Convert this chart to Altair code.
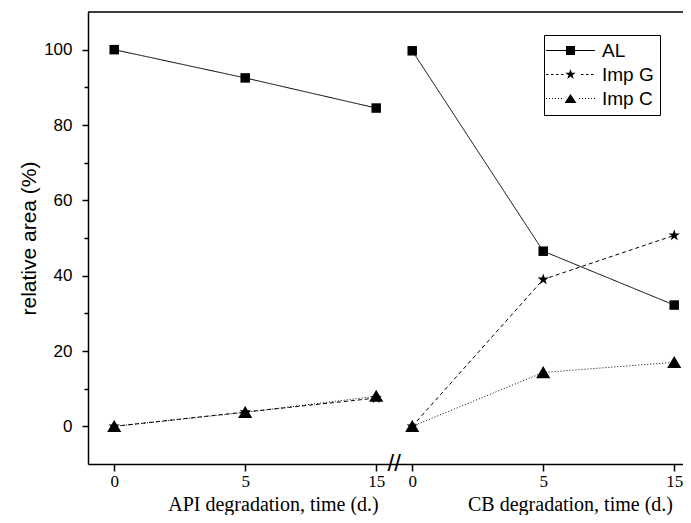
import json
import re
import altair as alt
import pandas as pd

# ---------------- data ----------------
time_labels = ["0", "5", "15"]
panel_names = ["API", "CB"]
series_names = ["AL", "Imp G", "Imp C"]

al_api = [100.0, 92.5, 84.5]
impg_api = [0.0, 3.8, 7.5]
impc_api = [0.0, 3.7, 8.0]

al_cb = [99.7, 46.5, 32.2]
impg_cb = [0.0, 39.0, 50.7]
impc_cb = [0.0, 14.3, 17.0]

x_titles = ["API degradation, time (d.)", "CB degradation, time (d.)"]
y_title = "relative area (%)"
y_major = [0, 20, 40, 60, 80, 100]
y_minor = [10, 30, 50, 70, 90]
y_domain = [-10, 110]

# ---------------- layout helpers ----------------
GAP = 2.275  # offset of the second panel on the broken axis
panel_offsets = [0.0, GAP]
x_domain = [-0.2, 4.342]

values = {
    "API": {"AL": al_api, "Imp G": impg_api, "Imp C": impc_api},
    "CB": {"AL": al_cb, "Imp G": impg_cb, "Imp C": impc_cb},
}
rows = []
for p, off in zip(panel_names, panel_offsets):
    for s in series_names:
        for i, t in enumerate(time_labels):
            rows.append({"panel": p, "series": s, "time": t,
                         "pos": i + off, "value": values[p][s][i],
                         "grp": p + "|" + s})
df = pd.DataFrame(rows)

tick_pos = [i + off for off in panel_offsets for i in range(len(time_labels))]
lab = json.dumps(time_labels)
label_expr = (f"datum.value < {GAP - 0.1} ? {lab}[round(datum.value)] : "
              f"{lab}[round(datum.value - {GAP})]")
break_pos = (len(time_labels) - 1 + GAP) / 2.0

STAR = ("M0,-1L0.2245,-0.309L0.9511,-0.309L0.3633,0.118L0.5878,0.809L0,0.382"
        "L-0.5878,0.809L-0.3633,0.118L-0.9511,-0.309L-0.2245,-0.309Z")
TRI = "M0,-0.9L1,0.8L-1,0.8Z"


def bars(x0, x1, dash, period, skip, h=0.1):
    """legend line drawn as thin filled rectangles (dash pattern)"""
    out = []
    a = x0
    while a < x1 - 1e-9:
        b = min(a + dash, x1)
        if b <= -skip or a >= skip:
            out.append(f"M{a:.2f},{-h}H{b:.2f}V{h}H{a:.2f}Z")
        a += period
    return "".join(out)


def scaled(path, k):
    return re.sub(r"-?\d+\.?\d*", lambda m: f"{float(m.group()) * k:.3f}", path)


LEG_AL = "M-4.9,-0.1H4.9V0.1H-4.9ZM-0.9,-0.9H0.9V0.9H-0.9Z"
LEG_G = bars(-4.9, 4.9, 0.5, 1.0, 1.2) + scaled(STAR, 1.1)
LEG_C = bars(-4.9, 4.9, 0.2, 0.6, 1.3) + "M0,-0.9L1.2,0.9L-1.2,0.9Z"

x_scale = alt.Scale(domain=x_domain, nice=False, zero=False)
y_scale = alt.Scale(domain=y_domain, nice=False, zero=False)

base = alt.Chart(df)

lines = base.mark_line(color="black", strokeWidth=1, opacity=1).encode(
    x=alt.X("pos:Q", scale=x_scale, axis=alt.Axis(
        orient="bottom", values=tick_pos, labelExpr=label_expr, grid=False,
        labelOverlap=False, labelFlush=False,
        tickSize=7, tickWidth=1.5, tickColor="black",
        domainColor="black", domainWidth=1.5,
        labelFont="Liberation Serif", labelFontSize=17, labelColor="black",
        labelPadding=2,
        title=x_titles[0], titleFont="Liberation Serif", titleFontSize=20,
        titleFontWeight="normal", titleColor="black", titleX=185,
        titleY=46, titleAlign="center", titleBaseline="alphabetic")),
    y=alt.Y("value:Q", scale=y_scale, axis=alt.Axis(
        orient="left", values=y_major, grid=False,
        tickSize=6, tickWidth=1.5, tickColor="black",
        domainColor="black", domainWidth=1.5,
        labelFont="Liberation Sans", labelFontSize=17, labelColor="black",
        labelPadding=10,
        title=y_title, titleFont="Liberation Sans", titleFontSize=21,
        titleFontWeight="normal", titleColor="black", titlePadding=4)),
    strokeDash=alt.StrokeDash("series:N", scale=alt.Scale(
        domain=series_names, range=[[1, 0], [4, 3], [1, 2]]), legend=None),
    detail="grp:N",
)

points = base.mark_point(filled=True, color="black", opacity=1).encode(
    x=alt.X("pos:Q", scale=x_scale, axis=alt.Axis(
        orient="bottom", domain=False, ticks=False, labels=False, grid=False,
        title=x_titles[1], titleFont="Liberation Serif", titleFontSize=20,
        titleFontWeight="normal", titleColor="black", titleX=482,
        titleY=46, titleAlign="center", titleBaseline="alphabetic")),
    y=alt.Y("value:Q", scale=y_scale, axis=alt.Axis(
        orient="left", values=y_minor, labels=False, domain=False, grid=False,
        tickSize=4, tickWidth=1.5, tickColor="black", title=None)),
    shape=alt.Shape("series:N", scale=alt.Scale(
        domain=series_names, range=["square", STAR, TRI]), legend=None),
    size=alt.Size("series:N", scale=alt.Scale(
        domain=series_names, range=[90, 200, 170]), legend=None),
)

legend_layer = base.transform_filter("false").mark_point(
    filled=True, color="black", opacity=1
).encode(
    x=alt.X("pos:Q", scale=x_scale, axis=None),
    y=alt.Y("value:Q", scale=y_scale, axis=None),
    shape=alt.Shape("series:N", scale=alt.Scale(
        domain=series_names, range=[LEG_AL, LEG_G, LEG_C]),
        legend=alt.Legend(
            orient="none", legendX=456, legendY=23, title=None,
            symbolSize=100, symbolOffset=11, labelOffset=22,
            symbolStrokeWidth=0, symbolFillColor="black", symbolOpacity=1,
            labelFont="Liberation Sans", labelFontSize=19,
            labelColor="black", labelLimit=200,
            strokeColor="black", fillColor="white", padding=6,
            rowPadding=4)),
)

# top frame line at the upper end of the y scale
top_line = alt.Chart(pd.DataFrame({"y": [y_domain[1]]})).mark_rule(
    color="black", strokeWidth=1.5
).encode(y=alt.Y("y:Q", scale=y_scale, axis=None))

brk = alt.Chart(pd.DataFrame({"x": [break_pos], "y": [y_domain[0]]})).mark_text(
    text="//", font="Liberation Sans", fontSize=24, color="black"
).encode(
    x=alt.X("x:Q", scale=x_scale, axis=None),
    y=alt.Y("y:Q", scale=y_scale, axis=None),
)

chart = alt.layer(lines, points, legend_layer, top_line, brk).resolve_axis(
    x="independent", y="independent"
).resolve_scale(shape="independent").properties(
    width=595, height=452,
    autosize=alt.AutoSizeParams(type="none"),
    padding={"left": 80, "top": 4, "right": 0, "bottom": 51},
).configure_view(stroke=None).configure(background="white")

chart.save("out.html", embed_options={"renderer": "svg", "actions": False})
